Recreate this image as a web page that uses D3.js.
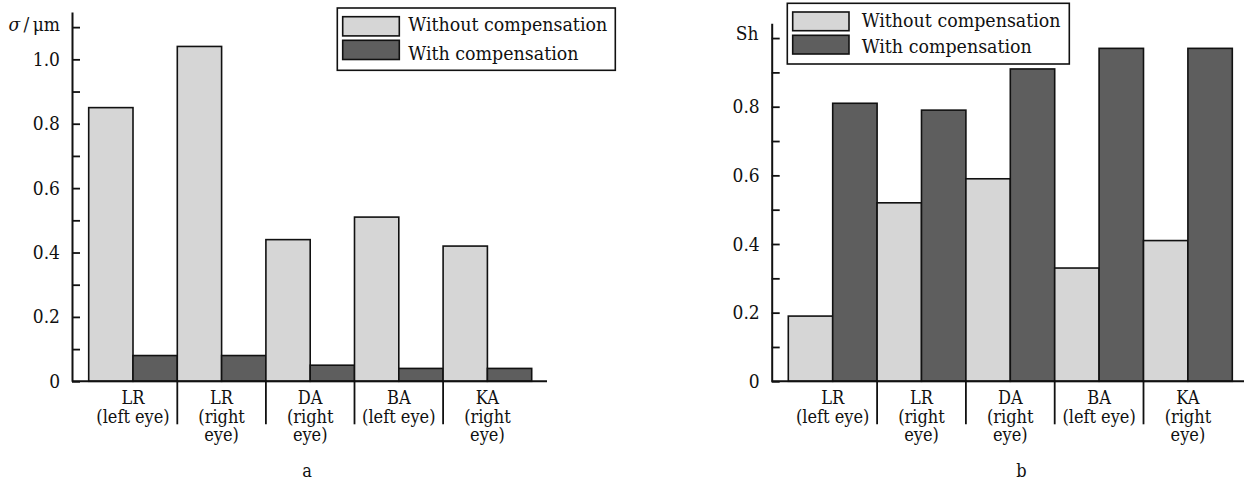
<!DOCTYPE html>
<html>
<head>
<meta charset="utf-8">
<script src="https://cdn.jsdelivr.net/npm/d3@7/dist/d3.min.js"></script>
<style>
  html, body { margin: 0; padding: 0; background: #fff; }
  svg { display: block; }
  text { font-family: "DejaVu Serif Condensed", "Liberation Serif", "DejaVu Serif", serif; fill: #111; }
</style>
</head>
<body>
<svg id="chart" width="1244" height="483"></svg>
<script>
// Subjects (categories) and their two-line / three-line captions
const categories = ["LR-L", "LR-R", "DA-R", "BA-L", "KA-R"];
const categoryLines = [
  ["LR", "(left eye)"],
  ["LR", "(right", "eye)"],
  ["DA", "(right", "eye)"],
  ["BA", "(left eye)"],
  ["KA", "(right", "eye)"]
];
const seriesNames = ["Without compensation", "With compensation"];

// Panel a: RMS wavefront error sigma, µm
const sigmaWithout = [0.85, 1.04, 0.44, 0.51, 0.42];
const sigmaWith    = [0.08, 0.08, 0.05, 0.04, 0.04];

// Panel b: Strehl ratio
const shWithout = [0.19, 0.52, 0.59, 0.33, 0.41];
const shWith    = [0.81, 0.79, 0.91, 0.97, 0.97];

// Axis ticks
const ticksA      = [0, 0.1, 0.2, 0.3, 0.4, 0.5, 0.6, 0.7, 0.8, 0.9, 1.0, 1.1];
const tickLabelsA = [0, 0.2, 0.4, 0.6, 0.8, 1.0];
const ticksB      = [0, 0.1, 0.2, 0.3, 0.4, 0.5, 0.6, 0.7, 0.8, 0.9, 1.0];
const tickLabelsB = [0, 0.2, 0.4, 0.6, 0.8];

const colors = { "Without compensation": "#d6d6d6", "With compensation": "#5e5e5e" };
const svg = d3.select("#chart");

function panel(opts) {
  const g = svg.append("g");
  const y = d3.scaleLinear().domain([0, opts.yTop]).range([opts.y0, opts.yTopPx]);
  const x = d3.scaleBand().domain(categories).range([opts.bandLeft, opts.bandRight])
    .paddingInner(0).paddingOuter(0);
  const xs = d3.scaleBand().domain(seriesNames).range([0, x.bandwidth()]).padding(0);

  const rows = categories.map((c, i) => ({
    cat: c,
    vals: [
      { s: seriesNames[0], v: opts.without[i] },
      { s: seriesNames[1], v: opts.with[i] }
    ]
  }));

  // bars
  g.selectAll("g.grp").data(rows).join("g")
    .attr("class", "grp")
    .attr("transform", d => `translate(${x(d.cat)},0)`)
    .selectAll("rect").data(d => d.vals).join("rect")
    .attr("x", d => xs(d.s))
    .attr("width", xs.bandwidth())
    .attr("y", d => y(d.v))
    .attr("height", d => y(0) - y(d.v))
    .attr("fill", d => colors[d.s])
    .attr("stroke", "#111")
    .attr("stroke-width", 1.6);

  // y axis: ticks point inward, labels on the left
  const fmt = d3.format(".1f");
  const yAxis = d3.axisLeft(y)
    .tickValues(opts.ticks)
    .tickSizeInner(-8)
    .tickSizeOuter(0)
    .tickPadding(12)
    .tickFormat(d => opts.tickLabels.some(t => Math.abs(t - d) < 1e-9) ? (d === 0 ? "0" : fmt(d)) : "");
  const ya = g.append("g").attr("transform", `translate(${opts.axisX},0)`).call(yAxis);
  ya.select(".domain").attr("stroke", "#111").attr("stroke-width", 2);
  ya.selectAll(".tick line").attr("stroke", "#111").attr("stroke-width", 1.8);
  ya.selectAll(".tick text").attr("font-size", 19).attr("fill", "#111");

  // baseline
  g.append("line")
    .attr("x1", opts.axisX).attr("x2", opts.baseRight)
    .attr("y1", y(0)).attr("y2", y(0))
    .attr("stroke", "#111").attr("stroke-width", 2);

  // category separators below the baseline
  g.selectAll("line.sep").data(categories.slice(1)).join("line")
    .attr("class", "sep")
    .attr("x1", d => x(d)).attr("x2", d => x(d))
    .attr("y1", y(0)).attr("y2", y(0) + 43)
    .attr("stroke", "#111").attr("stroke-width", 1.8);

  // category captions
  const cap = g.selectAll("text.cat").data(categories).join("text")
    .attr("class", "cat")
    .attr("text-anchor", "middle")
    .attr("font-size", 18);
  cap.each(function(c, i) {
    d3.select(this).selectAll("tspan").data(categoryLines[i]).join("tspan")
      .attr("x", x(c) + x.bandwidth() / 2)
      .attr("y", (d, j) => y(0) + 22.5 + j * 18.8)
      .text(d => d);
  });

  // legend
  const L = opts.legend;
  g.append("rect")
    .attr("x", L.x).attr("y", L.y).attr("width", L.w).attr("height", L.h)
    .attr("fill", "#fff").attr("stroke", "#111").attr("stroke-width", 1.6);
  seriesNames.forEach((s, i) => {
    g.append("rect")
      .attr("x", L.swX).attr("y", L.swY[i]).attr("width", L.swW).attr("height", L.swH)
      .attr("fill", colors[s]).attr("stroke", "#111").attr("stroke-width", 1.6);
    g.append("text")
      .attr("x", L.txX).attr("y", L.txY[i])
      .attr("font-size", 19.4)
      .text(s);
  });

  // panel letter
  g.append("text")
    .attr("x", opts.letterX).attr("y", 477)
    .attr("text-anchor", "middle").attr("font-size", 18)
    .text(opts.letter);

  return { g, y };
}

// panel a
const pa = panel({
  without: sigmaWithout, with: sigmaWith,
  yTop: 1.147, y0: 381.3, yTopPx: 12,
  axisX: 72, bandLeft: 88.7, bandRight: 531.7, baseRight: 547,
  ticks: ticksA, tickLabels: tickLabelsA,
  legend: { x: 337.3, y: 8, w: 278, h: 62.3, swX: 342.7, swY: [16.7, 40.3], swW: 56.6, swH: 19.2,
            txX: 408.3, txY: [31.3, 59.7] },
  letter: "a", letterX: 307
});
const ttl = pa.g.append("text")
  .attr("x", 60).attr("y", 31).attr("text-anchor", "end").attr("font-size", 19);
ttl.append("tspan").attr("font-style", "italic").text("σ");
ttl.append("tspan").text("\u2009/\u2009μm");

// panel b
const pb = panel({
  without: shWithout, with: shWith,
  yTop: 1.043, y0: 381.3, yTopPx: 23.3,
  axisX: 771.7, bandLeft: 788.3, bandRight: 1232.3, baseRight: 1248,
  ticks: ticksB, tickLabels: tickLabelsB,
  legend: { x: 787.3, y: 3.3, w: 282, h: 60.7, swX: 792.7, swY: [12, 35.3], swW: 56.3, swH: 18.7,
            txX: 861.7, txY: [26.7, 53.3] },
  letter: "b", letterX: 1021.5
});
pb.g.append("text")
  .attr("x", 758.5).attr("y", 40).attr("text-anchor", "end").attr("font-size", 19)
  .text("Sh");
</script>
</body>
</html>
